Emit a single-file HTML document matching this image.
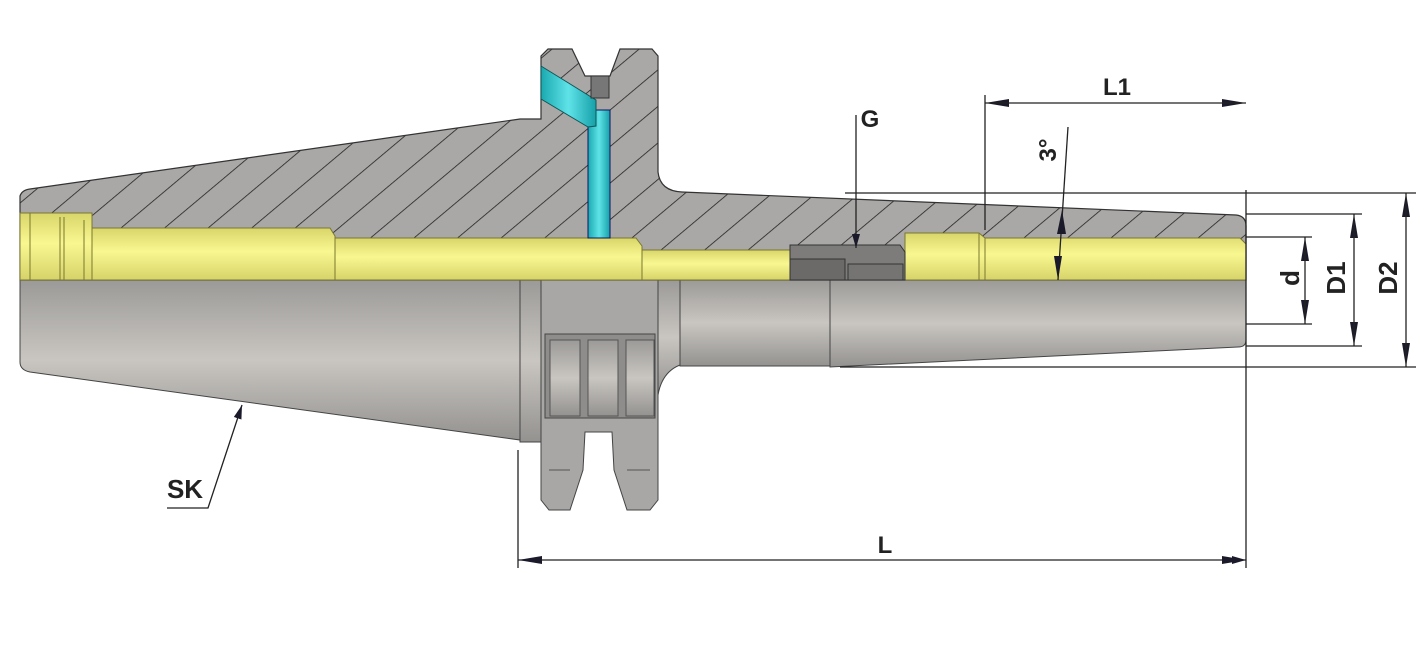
<!DOCTYPE html>
<html><head><meta charset="utf-8"><style>
html,body{margin:0;padding:0;background:#fff;}
svg{display:block;}
text{font-family:"Liberation Sans","DejaVu Sans",sans-serif;font-weight:bold;fill:#222;}
</style></head><body>
<svg width="1418" height="655" viewBox="0 0 1418 655" xmlns="http://www.w3.org/2000/svg">
<defs>
<pattern id="hatch" patternUnits="userSpaceOnUse" width="28" height="28" patternTransform="rotate(50)">
<rect width="28" height="28" fill="#aaa8a6"/>
<line x1="0" y1="0" x2="0" y2="28" stroke="#222" stroke-width="1.6"/>
</pattern>
<linearGradient id="gold" x1="0" y1="0" x2="0" y2="1">
<stop offset="0" stop-color="#d8d56a"/><stop offset="0.45" stop-color="#f9f790"/><stop offset="1" stop-color="#d6d36a"/>
</linearGradient>
<linearGradient id="steel" x1="0" y1="0" x2="0" y2="1">
<stop offset="0" stop-color="#9c9a98"/><stop offset="0.5" stop-color="#c9c6c1"/><stop offset="1" stop-color="#949290"/>
</linearGradient>
<linearGradient id="cyan" x1="0" y1="0" x2="1" y2="0">
<stop offset="0" stop-color="#1aa9b0"/><stop offset="0.5" stop-color="#5ee3e8"/><stop offset="1" stop-color="#16a0a8"/>
</linearGradient>
<marker id="ar" markerWidth="14" markerHeight="8" refX="14" refY="4" orient="auto" markerUnits="userSpaceOnUse">
<path d="M0,0 L14,4 L0,8 z" fill="#1a1a2a"/></marker>
</defs>

<!-- lower exterior -->
<path d="M20,280 L520,280 L520,440 L30,372 Q20,370 20,362 Z" fill="url(#steel)" stroke="#444" stroke-width="1"/>
<rect x="520" y="280" width="21" height="162" fill="url(#steel)" stroke="#444"/>
<path d="M541,280 L658,280 L658,500 L650,510 L627,510 L614,470 L612,432 L585,432 L583,470 L570,510 L549,510 L541,500 Z" fill="#a9a7a5" stroke="#444"/>
<rect x="545" y="334" width="110" height="84" fill="#8f8d8b" stroke="#444"/>
<rect x="550" y="340" width="30" height="76" fill="url(#steel)" stroke="#555"/>
<rect x="588" y="340" width="30" height="76" fill="url(#steel)" stroke="#555"/>
<rect x="626" y="340" width="28" height="76" fill="url(#steel)" stroke="#555"/>
<path d="M549,470 L570,470 M627,470 L650,470" stroke="#555"/>
<path d="M658,280 L680,280 L680,365 Q662,372 658,395 Z" fill="url(#steel)" stroke="#444"/>
<rect x="680" y="280" width="150" height="86" fill="url(#steel)" stroke="#444"/>
<path d="M830,280 L1246,280 L1246,340 Q1246,347 1238,347 L830,367 Z" fill="url(#steel)" stroke="#444"/>

<!-- upper hatched section -->
<path d="M20,196 Q22,190 30,189 L520,119 L541,119 L541,56 L548,49 L572,49 L585,76 L610,76 L620,49 L652,49 L658,56 L658,172 Q660,191 682,192 L1236,215 Q1246,216 1246,226 L1246,280 L20,280 Z" fill="url(#hatch)" stroke="#333" stroke-width="1.2"/>

<!-- gold bore -->
<g stroke="#7a7830" stroke-width="1">
<rect x="20" y="213" width="72" height="67" fill="url(#gold)"/>
<line x1="30" y1="213" x2="30" y2="280"/><line x1="60" y1="217" x2="60" y2="280"/><line x1="64" y1="217" x2="64" y2="280"/><line x1="84" y1="220" x2="84" y2="280"/>
<path d="M92,228 L330,228 L335,236 L335,280 L92,280 Z" fill="url(#gold)"/>
<path d="M335,238 L636,238 L642,246 L642,280 L335,280 Z" fill="url(#gold)"/>
<rect x="642" y="250" width="148" height="30" fill="url(#gold)"/>
<path d="M905,233 L979,233 L985,238 L1240,238 L1246,244 L1246,280 L905,280 Z" fill="url(#gold)"/>
<line x1="985" y1="238" x2="985" y2="280"/><line x1="979" y1="233" x2="979" y2="280"/>
</g>
<path d="M790,245 L900,245 L905,252 L905,280 L790,280 Z" fill="#7e7c7a" stroke="#333"/>
<rect x="790" y="259" width="55" height="21" fill="#6b6a69" stroke="#333"/>
<rect x="848" y="264" width="55" height="16" fill="#757472" stroke="#333"/>

<!-- coolant -->
<rect x="588" y="110" width="22" height="128" fill="url(#cyan)" stroke="#116"/>
<path d="M541,66 L596,100 L596,126 L588,127 L541,99 Z" fill="url(#cyan)" stroke="#155"/>
<rect x="591" y="76" width="18" height="22" fill="#777" stroke="#333"/>

<!-- dimension lines -->
<g stroke="#222" stroke-width="1.3" fill="none">
<line x1="518" y1="450" x2="518" y2="568"/>
<line x1="1246" y1="190" x2="1246" y2="568"/>
<line x1="518" y1="560" x2="1246" y2="560" marker-end="url(#ar)" marker-start="url(#arr)"/>
<line x1="985" y1="95" x2="985" y2="230"/>
<line x1="845" y1="193" x2="1416" y2="193"/>
<line x1="840" y1="367" x2="1416" y2="367"/>
<line x1="1246" y1="214" x2="1362" y2="214"/>
<line x1="1246" y1="346" x2="1362" y2="346"/>
<line x1="1246" y1="237" x2="1312" y2="237"/>
<line x1="1246" y1="324" x2="1312" y2="324"/>
<line x1="856" y1="115" x2="856" y2="248" marker-end="url(#ar)"/>
<line x1="1068" y1="127" x2="1058" y2="280"/>
<polyline points="167,508 208,508 242,405" marker-end="url(#ar)"/>
</g>
<g fill="#1a1a2a">
<path d="M518,560 L542,556 L542,564 Z"/><path d="M1246,560 L1222,556 L1222,564 Z"/>
<path d="M985,103 L1009,99 L1009,107 Z"/><path d="M1246,103 L1222,99 L1222,107 Z"/>
<path d="M1406,193 L1402,217 L1410,217 Z"/><path d="M1406,367 L1402,343 L1410,343 Z"/>
<path d="M1354,214 L1350,238 L1358,238 Z"/><path d="M1354,346 L1350,322 L1358,322 Z"/>
<path d="M1305,237 L1301,261 L1309,261 Z"/><path d="M1305,324 L1301,300 L1309,300 Z"/>
<path d="M1062,210 L1057,234 L1066,234 Z"/><path d="M1058,280 L1054,256 L1062,256 Z"/>
</g>
<g stroke="#222" stroke-width="1.3">
<line x1="985" y1="103" x2="1246" y2="103"/>
<line x1="1406" y1="193" x2="1406" y2="367"/>
<line x1="1354" y1="214" x2="1354" y2="346"/>
<line x1="1305" y1="237" x2="1305" y2="324"/>
</g>

<text x="1117" y="95" font-size="24" text-anchor="middle">L1</text>
<text x="870" y="127" font-size="24" text-anchor="middle">G</text>
<text x="885" y="553" font-size="24" text-anchor="middle">L</text>
<text x="185" y="498" font-size="26" text-anchor="middle">SK</text>
<text transform="translate(1056,150) rotate(-90)" font-size="24" text-anchor="middle">3°</text>
<text transform="translate(1299,278) rotate(-90)" font-size="26" text-anchor="middle">d</text>
<text transform="translate(1345,278) rotate(-90)" font-size="26" text-anchor="middle">D1</text>
<text transform="translate(1397,278) rotate(-90)" font-size="26" text-anchor="middle">D2</text>
</svg>
</body></html>
